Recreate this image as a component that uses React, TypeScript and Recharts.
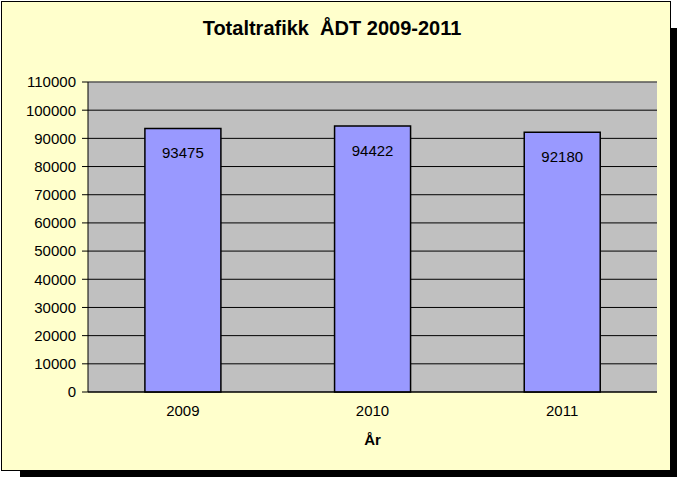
import React from 'react';
import { Bar, BarChart, CartesianGrid, LabelList, ReferenceLine, XAxis, YAxis } from 'recharts';

const years = ['2009', '2010', '2011'];
const adt = [93475, 94422, 92180];
const yTicks = [0, 10000, 20000, 30000, 40000, 50000, 60000, 70000, 80000, 90000, 100000, 110000];
const boundaryTicks = [0, 1, 2, 3];

const font = 'Arial, "Liberation Sans", sans-serif';

export default function App() {
  const data = years.map((year, i) => ({ year, adt: adt[i] }));

  return (
    <div style={{ position: 'absolute', left: 0, top: 0, width: 679, height: 481, fontFamily: font }}>
      {/* chart area box + shadow */}
      <div style={{ position: 'absolute', left: 1, top: 1, width: 668, height: 468, background: '#FFFFCC', border: '1px solid #000' }} />
      <div style={{ position: 'absolute', left: 671, top: 28, width: 6, height: 449, background: '#000' }} />
      <div style={{ position: 'absolute', left: 20, top: 471, width: 657, height: 6, background: '#000' }} />
      <div style={{ position: 'absolute', left: -3, top: 17, width: 670, textAlign: 'center', fontSize: 20, fontWeight: 'bold', whiteSpace: 'pre', color: '#000' }}>
        {'Totaltrafikk  ÅDT 2009-2011'}
      </div>
      <BarChart
        width={679}
        height={481}
        data={data}
        margin={{ top: 82, right: 22, left: 8, bottom: 29 }}
        barCategoryGap="30%"
        style={{ position: 'absolute', left: 0, top: 0 }}
      >
        <CartesianGrid vertical={false} fill="#C0C0C0" stroke="#000" fillOpacity={1} />
        <XAxis
          xAxisId="b"
          type="number"
          domain={[0, 3]}
          ticks={boundaryTicks}
          allowDataOverflow
          height={0}
          axisLine={false}
          tickLine={{ stroke: '#000' }}
          tickSize={5}
          tickFormatter={() => ''}
        />
        <XAxis
          xAxisId="cat"
          dataKey="year"
          height={60}
          tickLine={false}
          tickMargin={7}
          axisLine={{ stroke: '#000' }}
          tick={{ fill: '#000', fontSize: 15, fontFamily: font }}
          label={{ value: 'År', position: 'insideBottom', offset: 7, fill: '#000', fontSize: 15, fontWeight: 'bold', fontFamily: font }}
        />
        <YAxis
          domain={[0, 110000]}
          ticks={yTicks}
          width={80}
          tickSize={6}
          tickMargin={6}
          axisLine={{ stroke: '#000' }}
          tickLine={{ stroke: '#000' }}
          tick={{ fill: '#000', fontSize: 15, fontFamily: font }}
        />
        <YAxis yAxisId="r" orientation="right" width={0} domain={[0, 110000]} tick={false} tickLine={false} axisLine={{ stroke: '#808080' }} />
        <ReferenceLine y={110000} stroke="#808080" />
        <Bar xAxisId="cat" dataKey="adt" fill="#9999FF" stroke="#000" strokeWidth={1.5} isAnimationActive={false}>
          <LabelList dataKey="adt" position="insideTop" offset={19} fill="#000" fontSize={15} fontFamily={font} />
        </Bar>
      </BarChart>
    </div>
  );
}
